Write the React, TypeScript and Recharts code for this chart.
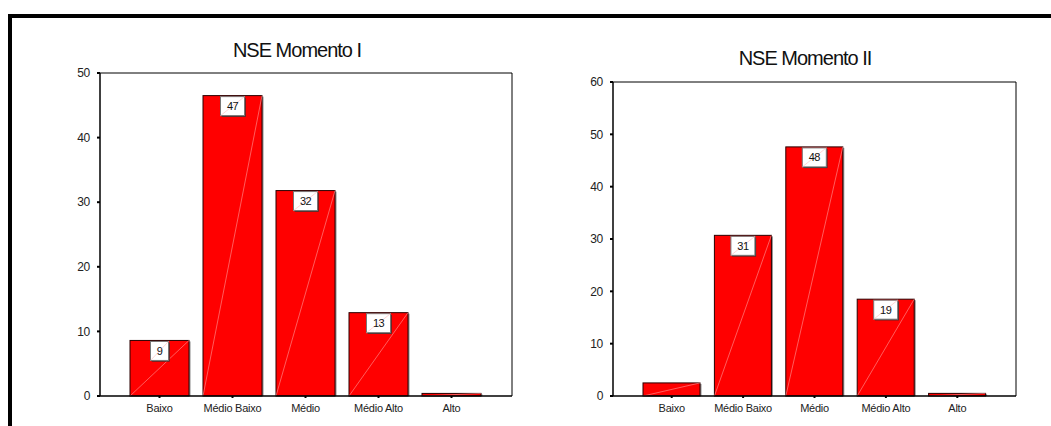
import { BarChart, Bar, XAxis, YAxis, LabelList } from "recharts";

const categories = ["Baixo", "Médio Baixo", "Médio", "Médio Alto", "Alto"];

// percentages
const momentoI = [8.6, 46.5, 31.8, 12.9, 0.4];
const momentoII = [2.5, 30.7, 47.6, 18.5, 0.5];

// the boxed labels SPSS printed (short bars got none)
const labelsI = ["9", "47", "32", "13", ""];
const labelsII = ["", "31", "48", "19", ""];

const ticksI = [0, 10, 20, 30, 40, 50];
const ticksII = [0, 10, 20, 30, 40, 50, 60];

const FONT = '"Liberation Sans", Arial, sans-serif';

function SpssBar(props: any) {
  const { x, y, width, height } = props;
  if (!height || height <= 0) return null;
  return (
    <g>
      {/* grey drop shadow on the right */}
      <rect x={x + 1.5} y={y + 1} width={width} height={height - 1} fill="#8c8c8c" />
      <rect
        x={x}
        y={y}
        width={width}
        height={height}
        fill="#ff0000"
        stroke="#2a0000"
        strokeWidth={1}
      />
      <line
        x1={x}
        y1={y + height}
        x2={x + width}
        y2={y}
        stroke="#ff9a9a"
        strokeWidth={0.6}
      />
    </g>
  );
}

function BoxLabel(props: any) {
  const vb = props.viewBox ?? props;
  const { x, y, width } = vb;
  const txt = props.value;
  if (!txt) return null;
  const w = 12 + String(txt).length * 6;
  const h = 19;
  const bx = x + width / 2 - w / 2;
  const by = y + 1;
  return (
    <g>
      <rect x={bx + 1.2} y={by + 1.2} width={w} height={h} fill="#333" />
      <rect x={bx} y={by} width={w} height={h} fill="#fff" stroke="#777" strokeWidth={1} />
      <line x1={bx} y1={by + h} x2={bx + w} y2={by} stroke="#ffb8b8" strokeWidth={0.6} />
      <text
        x={bx + w / 2}
        y={by + h / 2}
        dy="0.36em"
        textAnchor="middle"
        fontSize={11}
        fontFamily={FONT}
        fill="#111"
        letterSpacing={-0.5}
      >
        {txt}
      </text>
    </g>
  );
}

function NseChart({
  title,
  values,
  labels,
  ticks,
  left,
  width,
  margin,
  barSize,
  padding,
  titleX,
  titleTop,
}: any) {
  const data = categories.map((name, i) => ({
    name,
    value: values[i],
    label: labels[i],
  }));
  const max = ticks[ticks.length - 1];
  const axisLine = { stroke: "#000", strokeWidth: 1.5 };

  return (
    <div style={{ position: "absolute", left, top: 0, width, height: 426 }}>
      <div
        style={{
          position: "absolute",
          left: titleX,
          top: titleTop,
          transform: "translateX(-50%)",
          whiteSpace: "nowrap",
          fontFamily: FONT,
          fontSize: 20,
          lineHeight: "20px",
          letterSpacing: -1,
          color: "#111",
        }}
      >
        {title}
      </div>
      <BarChart width={width} height={426} data={data} margin={margin}>
        <XAxis
          dataKey="name"
          height={30}
          padding={padding}
          interval={0}
          axisLine={axisLine}
          tickLine={{ stroke: "#000", strokeWidth: 2 }}
          tickSize={2}
          tickMargin={6}
          tick={{ fontSize: 11, fill: "#222", fontFamily: FONT, letterSpacing: -0.25 }}
        />
        {/* frame: top and right edges of the plot box */}
        <XAxis
          xAxisId="top"
          orientation="top"
          dataKey="name"
          height={1}
          padding={padding}
          tick={false}
          tickLine={false}
          axisLine={{ stroke: "#000", strokeWidth: 1 }}
        />
        <YAxis
          domain={[0, max]}
          ticks={ticks}
          interval={0}
          width={40}
          axisLine={axisLine}
          tickLine={{ stroke: "#000", strokeWidth: 2 }}
          tickSize={3}
          tickMargin={7}
          tick={{ fontSize: 12, fill: "#222", fontFamily: FONT, letterSpacing: -0.3 }}
        />
        <YAxis
          yAxisId="right"
          orientation="right"
          domain={[0, max]}
          width={1}
          tick={false}
          tickLine={false}
          axisLine={{ stroke: "#000", strokeWidth: 1 }}
        />
        <Bar
          dataKey="value"
          barSize={barSize}
          fill="#ff0000"
          shape={(p: any) => <SpssBar {...p} />}
          isAnimationActive={false}
        >
          <LabelList dataKey="label" content={(p: any) => <BoxLabel {...p} />} />
        </Bar>
      </BarChart>
    </div>
  );
}

export default function App() {
  return (
    <div
      style={{
        position: "absolute",
        left: 0,
        top: 0,
        width: 1051,
        height: 426,
        background: "#fff",
        overflow: "hidden",
      }}
    >
      <div
        style={{
          position: "absolute",
          left: 8,
          top: 14,
          right: 0,
          bottom: 0,
          borderTop: "4px solid #000",
          borderLeft: "4px solid #000",
        }}
      />
      <NseChart
        title="NSE Momento I"
        values={momentoI}
        labels={labelsI}
        ticks={ticksI}
        left={0}
        width={525}
        margin={{ top: 72, right: 12, left: 60, bottom: 0 }}
        padding={{ left: 23, right: 24 }}
        barSize={59}
        titleX={297}
        titleTop={40}
      />
      <NseChart
        title="NSE Momento II"
        values={momentoII}
        labels={labelsII}
        ticks={ticksII}
        left={525}
        width={526}
        margin={{ top: 81, right: 34, left: 48, bottom: 0 }}
        padding={{ left: 23, right: 23 }}
        barSize={57}
        titleX={280}
        titleTop={48}
      />
    </div>
  );
}
